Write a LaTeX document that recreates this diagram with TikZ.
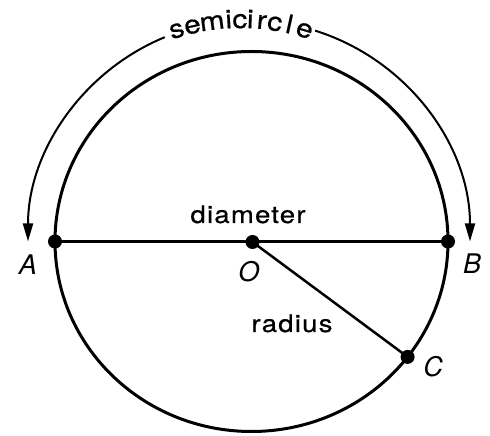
\documentclass[tikz,border=0pt]{standalone}
\usepackage{fontspec}
\setmainfont{TeX Gyre Heros}
\newfontfamily\labfont[FakeStretch=1.15,LetterSpace=5,FakeBold=0.6]{TeX Gyre Heros}
\newfontfamily\semifont[FakeStretch=1.15,FakeBold=0.6]{TeX Gyre Heros}
\newfontfamily\ptfont{TeX Gyre Heros}
\usetikzlibrary{arrows.meta}
\begin{document}
\begin{tikzpicture}[x=1pt,y=1pt,
  circ/.style={line width=3pt},
  dot/.style={circle,fill=black,inner sep=0pt,minimum size=14pt},
  ptlab/.style={font=\ptfont\itshape\fontsize{27}{27}\selectfont,inner sep=0pt},
  txt/.style={font=\labfont\fontsize{24}{24}\selectfont,inner sep=0pt},
  semi/.style={font=\semifont\fontsize{26}{26}\selectfont,inner sep=0pt},
  arcline/.style={line width=2pt,-{Triangle[length=18pt,width=10pt]}}]
\useasboundingbox (0,0) rectangle (490,436);
\coordinate (E) at (251.5,194.5);
\coordinate (oc) at (249,194.5);
\coordinate (tc) at (241,194.5);
\draw[circ] (E) ellipse [x radius=196.5pt, y radius=190pt];
\node[dot] (A) at (55,194.5) {};
\node[dot] (B) at (448,194.5) {};
\node[dot] (O) at (252.5,194) {};
\node[dot] (C) at (407.6,79.1) {};
\draw[line width=3.5pt] (A.center) -- (B.center);
\draw[line width=2.5pt] (O.center) -- (C.center);
\node[ptlab] (la) at (28,171) {A};
\node[ptlab] (lb) at (472,172) {B};
\node[ptlab] (lo) at (249,164) {O};
\node[ptlab] (lc) at (433,69) {C};
\node[txt,anchor=base] (dm) at (248,213) {diameter};
\node[txt,anchor=base] (rd) at (292,104) {radius};
\foreach \ch/\ang [count=\i] in {s/106.9,e/102.7,m/97.5,i/93.2,c/90.3,i/87.6,r/84.6,c/81.2,l/77.4,e/73.3}
  \node[semi,anchor=base,rotate=\ang-90] (semi\i) at ([shift={(\ang:213.5)}]tc) {\ch};
\draw[arcline] ([shift={(112.4:221)}]oc) arc[start angle=112.4, end angle=180, radius=221pt];
\draw[arcline] ([shift={(72.6:221)}]oc) arc[start angle=72.6, end angle=0, radius=221pt];
\end{tikzpicture}
\end{document}
